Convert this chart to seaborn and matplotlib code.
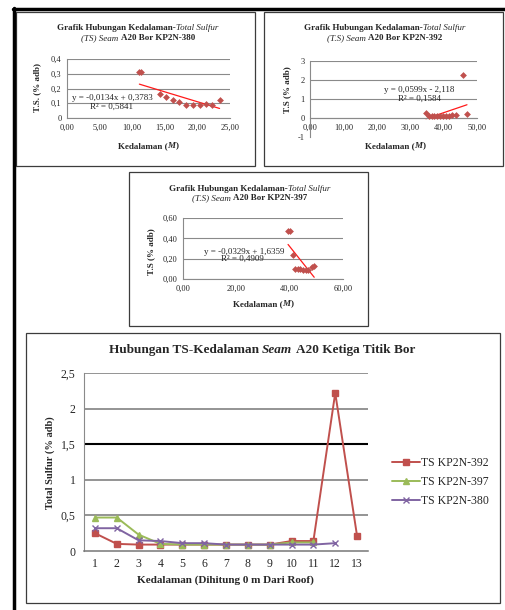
import numpy as np
import pandas as pd
import matplotlib
matplotlib.use("Agg")
import matplotlib.pyplot as plt
import seaborn as sns
from matplotlib.patches import Rectangle
from matplotlib.lines import Line2D

# --- data ---
# scatter KP2N-380
depth_380 = [11.1, 11.3, 14.2, 15.2, 16.3, 17.2, 18.3, 19.3, 20.4, 21.3, 22.2, 23.4]
ts_380_sc = [0.31, 0.31, 0.16, 0.145, 0.125, 0.11, 0.09, 0.09, 0.09, 0.095, 0.09, 0.125]
# scatter KP2N-392
depth_392 = [34.7, 35.6, 36.4, 37.2, 38.0, 38.9, 39.8, 40.7, 41.6, 42.5, 43.6, 45.8, 47.0]
ts_392_sc = [0.25, 0.10, 0.09, 0.09, 0.09, 0.09, 0.09, 0.09, 0.09, 0.14, 0.14, 2.25, 0.20]
# scatter KP2N-397
depth_397 = [39.4, 40.0, 41.3, 42.0, 43.0, 44.0, 45.0, 46.0, 47.0, 48.3, 49.2]
ts_397_sc = [0.47, 0.47, 0.24, 0.10, 0.10, 0.10, 0.09, 0.09, 0.09, 0.12, 0.13]

# trendline equations shown on the charts
fit_380 = (-0.0134, 0.3783, "y = -0,0134x + 0,3783", "R² = 0,5841")
fit_392 = (0.0599, -2.118, "y = 0,0599x - 2,118", "R² = 0,1584")
fit_397 = (-0.0329, 1.6359, "y = -0,0329x + 1,6359", "R² = 0,4909")

# line chart (sample number from roof)
ts_392 = [0.25, 0.10, 0.09, 0.09, 0.09, 0.09, 0.09, 0.09, 0.09, 0.14, 0.14, 2.22, 0.21]
ts_397 = [0.47, 0.47, 0.23, 0.10, 0.09, 0.09, 0.09, 0.09, 0.09, 0.12, 0.12]
ts_380 = [0.32, 0.32, 0.15, 0.14, 0.11, 0.11, 0.09, 0.09, 0.09, 0.09, 0.09, 0.11]
series_names = ["TS KP2N-392", "TS KP2N-397", "TS KP2N-380"]
cat_labels = [str(i) for i in range(1, 14)]
line_yticks = [0, 0.5, 1, 1.5, 2, 2.5]
line_ylabels = ["0", "0,5", "1", "1,5", "2", "2,5"]

sns.set_style("white")
plt.rcParams["font.family"] = ["Liberation Serif", "DejaVu Serif"]

W, H = 506, 610
fig = plt.figure(figsize=(W / 100, H / 100), dpi=100)
GRID = "#8a8a8a"


def rect(x0, y0, x1, y1):
    return [x0 / W, 1 - y1 / H, (x1 - x0) / W, (y1 - y0) / H]


def box(x0, y0, x1, y1, lw=0.9, color="#3c3c3c"):
    fig.add_artist(Rectangle((x0 / W, 1 - y1 / H), (x1 - x0) / W, (y1 - y0) / H,
                             transform=fig.transFigure, fill=False, ec=color, lw=lw))


def rich(pieces, cx, cy, size, rotation=0):
    # pieces: (text, style, weight, gap_before)
    r = fig.canvas.get_renderer()
    gap = size * 0.25 * 100 / 72
    txts, widths = [], []
    for s, style, weight, g in pieces:
        t = fig.text(0, 1 - cy / H, s, fontsize=size, style=style, weight=weight,
                     va="center", ha="left")
        txts.append(t)
        widths.append(t.get_window_extent(r).width + (gap if g else 0))
    x = cx - sum(widths) / 2
    for t, w, p in zip(txts, widths, pieces):
        if p[3]:
            x += gap
            w -= gap
        t.set_x(x / W)
        x += w


def style_ax(ax, ylabels_size=6):
    for s in ["top", "right"]:
        ax.spines[s].set_visible(False)
    for s in ["left", "bottom"]:
        ax.spines[s].set_color(GRID)
        ax.spines[s].set_linewidth(0.8)
    ax.yaxis.grid(True, color=GRID, lw=0.8)
    ax.xaxis.grid(False)
    ax.tick_params(axis="both", length=2, width=0.6, color=GRID, pad=2,
                   labelsize=ylabels_size)
    ax.set_xlabel("")
    ax.set_ylabel("")


def scatter_panel(pos, depth, ts, fit, xlim, xticks, xlabels, ylim, yticks, ylabels,
                  eq_xy, r_xy):
    ax = fig.add_axes(rect(*pos))
    sns.scatterplot(x=depth, y=ts, ax=ax, marker="D", s=12, color="#C0504D",
                    linewidth=0, zorder=3)
    xs = np.array([min(depth), max(depth)])
    sns.lineplot(x=xs, y=fit[0] * xs + fit[1], ax=ax, color="#FF1A1A", lw=0.9, zorder=2)
    ax.set_xlim(*xlim)
    ax.set_ylim(*ylim)
    ax.set_xticks(xticks, xlabels)
    ax.set_yticks(yticks, ylabels)
    style_ax(ax)
    fig.text(eq_xy[0] / W, 1 - eq_xy[1] / H, fit[2], fontsize=6.5, ha="center", va="center")
    fig.text(r_xy[0] / W, 1 - r_xy[1] / H, fit[3], fontsize=6.5, ha="center", va="center")
    return ax


# page frame lines
fig.add_artist(Line2D([13 / W, 1], [1 - 9 / H, 1 - 9 / H], transform=fig.transFigure,
                      color="black", lw=2.5))
fig.add_artist(Line2D([14 / W, 14 / W], [1 - 8 / H, 0], transform=fig.transFigure,
                      color="black", lw=2.5))

# panel boxes
box(16, 12, 255, 166)
box(264, 12, 503, 166)
box(129, 172, 368, 326)
box(26, 333, 500, 603)

# ---- panel 1: KP2N-380 ----
scatter_panel((67, 59, 230, 118), depth_380, ts_380_sc, fit_380,
              (0, 25), [0, 5, 10, 15, 20, 25], ["0,00", "5,00", "10,00", "15,00", "20,00", "25,00"],
              (0, 0.4), [0, 0.1, 0.2, 0.3, 0.4], ["0", "0,1", "0,2", "0,3", "0,4"],
              (112, 98), (112, 107))
rich([("Grafik Hubungan Kedalaman-", "normal", "bold", False),
      ("Total Sulfur", "italic", "normal", False)], 138, 28, 6.5)
rich([("(TS) Seam", "italic", "normal", False),
      ("A20 Bor KP2N-380", "normal", "bold", True)], 138, 38, 6.5)
rich([("Kedalaman (", "normal", "bold", False), ("M", "italic", "bold", False),
      (")", "normal", "bold", False)], 148, 146, 6.5)
fig.text(37 / W, 1 - 88 / H, "T.S. (% adb)", fontsize=6.5, weight="bold",
         rotation=90, ha="center", va="center")

# ---- panel 2: KP2N-392 ----
ax2 = scatter_panel((310, 61, 477, 137), depth_392, ts_392_sc, fit_392,
                    (0, 50), [0, 10, 20, 30, 40, 50],
                    ["0,00", "10,00", "20,00", "30,00", "40,00", "50,00"],
                    (-1, 3), [-1, 0, 1, 2, 3], ["-1", "0", "1", "2", "3"],
                    (419, 90), (420, 99))
ax2.spines["bottom"].set_position(("data", 0))
ax2.get_ygridlines()[0].set_visible(False)
rich([("Grafik Hubungan Kedalaman-", "normal", "bold", False),
      ("Total Sulfur", "italic", "normal", False)], 385, 28, 6.5)
rich([("(T.S) Seam", "italic", "normal", False),
      ("A20 Bor KP2N-392", "normal", "bold", True)], 385, 38, 6.5)
rich([("Kedalaman (", "normal", "bold", False), ("M", "italic", "bold", False),
      (")", "normal", "bold", False)], 395, 146, 6.5)
fig.text(287 / W, 1 - 90 / H, "T.S (% adb)", fontsize=6.5, weight="bold",
         rotation=90, ha="center", va="center")

# ---- panel 3: KP2N-397 ----
scatter_panel((183, 218, 343, 279), depth_397, ts_397_sc, fit_397,
              (0, 60), [0, 20, 40, 60], ["0,00", "20,00", "40,00", "60,00"],
              (0, 0.6), [0, 0.2, 0.4, 0.6], ["0,00", "0,20", "0,40", "0,60"],
              (244, 252), (242, 259))
rich([("Grafik Hubungan Kedalaman-", "normal", "bold", False),
      ("Total Sulfur", "italic", "normal", False)], 250, 189, 6.5)
rich([("(T.S) Seam", "italic", "normal", False),
      ("A20 Bor KP2N-397", "normal", "bold", True)], 250, 198, 6.5)
rich([("Kedalaman (", "normal", "bold", False), ("M", "italic", "bold", False),
      (")", "normal", "bold", False)], 263, 304, 6.5)
fig.text(151 / W, 1 - 252 / H, "T.S (% adb)", fontsize=6.5, weight="bold",
         rotation=90, ha="center", va="center")

# ---- panel 4: line chart ----
ax4 = fig.add_axes(rect(84, 373, 368, 551))
styles = [("#C0504D", "s", ts_392), ("#9BBB59", "^", ts_397), ("#8064A2", "x", ts_380)]
for name, (col, mk, vals) in zip(series_names, styles):
    xs = np.arange(1, len(vals) + 1)
    sns.lineplot(x=xs, y=vals, ax=ax4, color=col, lw=1.4, marker=mk, markersize=5,
                 markeredgecolor=col, markeredgewidth=1.0, label=name)
ax4.set_xlim(0.5, 13.5)
ax4.set_ylim(0, 2.5)
ax4.set_xticks(np.arange(1, 14), cat_labels)
ax4.set_yticks(line_yticks, line_ylabels)
style_ax(ax4, ylabels_size=8.5)
ax4.tick_params(axis="x", length=0, pad=5)
ax4.tick_params(axis="y", pad=4)
for v, gl in zip(line_yticks, ax4.get_ygridlines()):
    gl.set_linewidth(1.1)
    gl.set_color("#777777")
    if v == 1.5:
        gl.set_color("black")
        gl.set_linewidth(1.5)
    if v == 0:
        gl.set_visible(False)
ax4.spines["bottom"].set_color("#777777")
ax4.spines["bottom"].set_linewidth(1.1)
ax4.get_legend().remove()
h, l = ax4.get_legend_handles_labels()
fig.legend(h, l, loc="center left", bbox_to_anchor=(387 / W, 1 - 482 / H),
           bbox_transform=fig.transFigure, frameon=False, fontsize=8.5,
           handlelength=2.4, handletextpad=0.1, labelspacing=0.6, borderaxespad=0)
rich([("Hubungan TS-Kedalaman", "normal", "bold", False),
      ("Seam", "italic", "bold", True),
      ("A20 Ketiga Titik Bor", "normal", "bold", True)], 262, 350, 9.5)
fig.text(225 / W, 1 - 580 / H, "Kedalaman (Dihitung 0 m Dari Roof)", fontsize=8,
         weight="bold", ha="center", va="center")
fig.text(50 / W, 1 - 463 / H, "Total Sulfur (% adb)", fontsize=7.5, weight="bold",
         rotation=90, ha="center", va="center")

fig.savefig("out.png", dpi=100)
